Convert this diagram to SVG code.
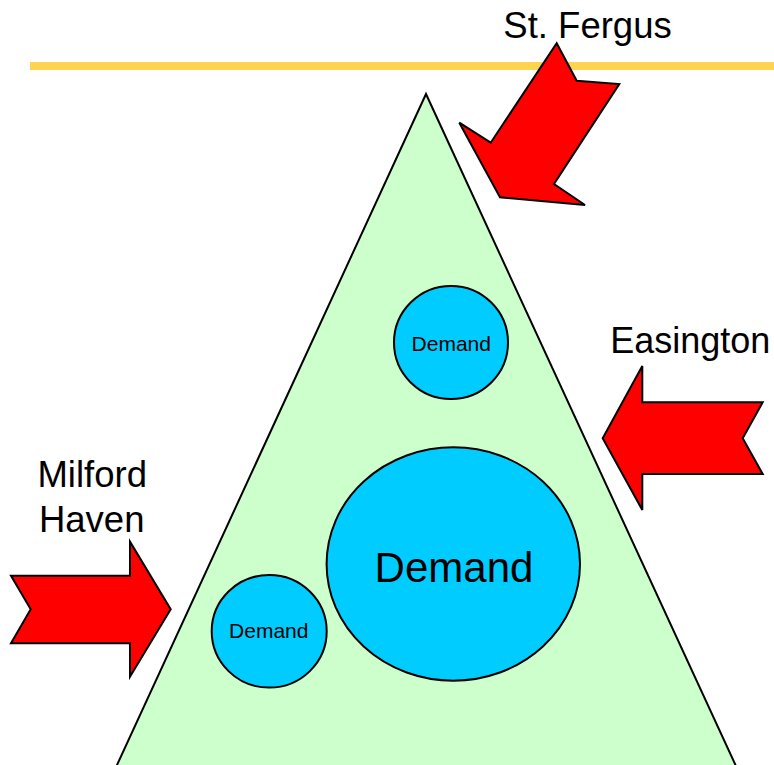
<svg xmlns="http://www.w3.org/2000/svg" width="774" height="765" viewBox="0 0 774 765">
<style>
.lbl{font-family:"Liberation Sans",Arial,sans-serif;fill:#000;text-anchor:middle}
.arrow{fill:#FF0000;stroke:#000;stroke-width:2;stroke-linejoin:miter}
.dem{fill:#00CCFF;stroke:#000;stroke-width:2}
</style>
<rect width="774" height="765" fill="#FFFFFF"/>
<line x1="30" y1="66" x2="774" y2="66" stroke="#FCD450" stroke-width="8"/>
<g id="triangle">
<polygon points="426,94 737.8,770 114.7,770" fill="#CCFFCC" stroke="#000" stroke-width="2"/>
</g>
<g id="demand-top">
<ellipse class="dem" cx="451" cy="342.5" rx="57" ry="56.5"/>
<text class="lbl" x="451.3" y="350.7" font-size="21">Demand</text>
</g>
<g id="demand-large">
<ellipse class="dem" cx="453.3" cy="564" rx="126.7" ry="116.7"/>
<text class="lbl" x="454" y="581.7" font-size="42">Demand</text>
</g>
<g id="demand-left">
<ellipse class="dem" cx="269.2" cy="631.3" rx="57.5" ry="56.3"/>
<text class="lbl" x="268.8" y="638.3" font-size="21">Demand</text>
</g>
<g id="st-fergus">
<polygon class="arrow" points="556.7,43.3 576.7,80.7 619.3,84 554,184 585,205 500,197.3 459.3,122.7 490.7,142.7"/>
<text class="lbl" x="587.5" y="37.5" font-size="36.5">St. Fergus</text>
</g>
<g id="easington">
<polygon class="arrow" points="602.7,438.3 642.3,366 642.3,402.3 762.7,402.3 742.7,438.3 762.7,474 642.3,474 642.3,510"/>
<text class="lbl" x="690.3" y="353.3" font-size="36">Easington</text>
</g>
<g id="milford-haven">
<polygon class="arrow" points="11,575.7 130,575.7 130,541.7 170.7,609.3 130,676.7 130,643.3 11,643.3 30.7,609.3"/>
<text class="lbl" x="92.2" y="487.3" font-size="36.5">Milford</text>
<text class="lbl" x="91.7" y="531.7" font-size="36.5">Haven</text>
</g>
<g id="connectors"/>
</svg>
